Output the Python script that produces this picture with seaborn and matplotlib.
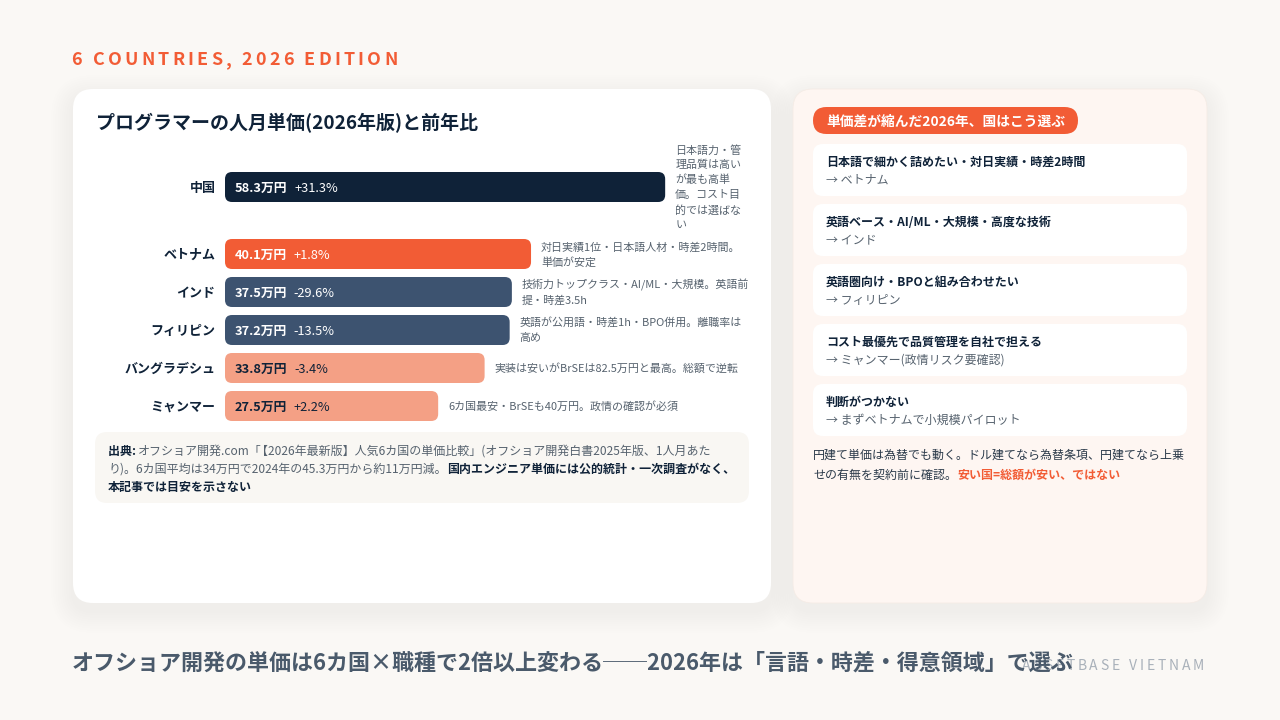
import matplotlib
matplotlib.use("Agg")
import matplotlib.pyplot as plt
import pandas as pd
import seaborn as sns
from matplotlib.patches import FancyBboxPatch

sns.set_theme(style="white")
plt.rcParams["font.family"] = ["Noto Sans CJK JP", "DejaVu Sans"]

# data
countries = ["中国", "ベトナム", "インド", "フィリピン", "バングラデシュ", "ミャンマー"]
prices = [58.3, 40.1, 37.5, 37.2, 33.8, 27.5]
yoy = ["+31.3%", "+1.8%", "-29.6%", "-13.5%", "-3.4%", "+2.2%"]
notes = [
    ["日本語力・管", "理品質は高い", "が最も高単", "価。コスト目", "的では選ばな", "い"],
    ["対日実績1位・日本語人材・時差2時間。", "単価が安定"],
    ["技術力トップクラス・AI/ML・大規模。英語前", "提・時差3.5h"],
    ["英語が公用語・時差1h・BPO併用。離職率は", "高め"],
    ["実装は安いがBrSEは82.5万円と最高。総額で逆転"],
    ["6カ国最安・BrSEも40万円。政情の確認が必須"],
]
choices = [
    ("日本語で細かく詰めたい・対日実績・時差2時間", "→ ベトナム"),
    ("英語ベース・AI/ML・大規模・高度な技術", "→ インド"),
    ("英語圏向け・BPOと組み合わせたい", "→ フィリピン"),
    ("コスト最優先で品質管理を自社で担える", "→ ミャンマー(政情リスク要確認)"),
    ("判断がつかない", "→ まずベトナムで小規模パイロット"),
]

NAVY = "#0F2238"
ORANGE = "#F25C35"
SLATE = "#3D5370"
SALMON = "#F4A085"
GREY = "#56626E"
BG = "#FAF8F5"
bar_colors = [NAVY, ORANGE, SLATE, SLATE, SALMON, SALMON]
value_colors = ["white", "white", "white", "white", NAVY, NAVY]

df = pd.DataFrame({"country": countries, "price": prices})

fig = plt.figure(figsize=(12.8, 7.2), dpi=100, facecolor=BG)
# canvas in pixel coordinates for the cards and text
bg = fig.add_axes([0, 0, 1, 1])
bg.set_xlim(0, 1280)
bg.set_ylim(720, 0)
bg.axis("off")


def px(size):
    return size * 0.72


def card(x0, y0, x1, y1, r, color, ax=bg, edge="none", z=1, lw=0):
    p = FancyBboxPatch((x0 + r, y0 + r), x1 - x0 - 2 * r, y1 - y0 - 2 * r,
                       boxstyle=f"round,pad={r},rounding_size={r}",
                       fc=color, ec=edge, lw=lw, zorder=z)
    ax.add_patch(p)
    return p


def shadow(x0, y0, x1, y1, r):
    # soft drop shadow, stacked outlines
    for i in range(10, 0, -1):
        g = i * 2.2
        card(x0 - g, y0 - g + 8, x1 + g, y1 + g + 8, r + g, (0.06, 0.13, 0.22, 0.004), z=0.5)


def runs(x, y, parts, size):
    # several styles on one baseline, an optional 4th item nudges the run
    r = fig.canvas.get_renderer()
    for part in parts:
        s, weight, color = part[:3]
        if len(part) > 3:
            x += part[3]
        t = bg.text(x, y, s, fontsize=px(size), fontweight=weight, color=color, va="baseline", zorder=5)
        x += t.get_window_extent(r).width


def spaced(x, y, s, size, weight, color, gap, z=5):
    # letter spacing is not a text option here
    r = fig.canvas.get_renderer()
    for ch in s:
        t = bg.text(x, y, ch, fontsize=px(size), fontweight=weight, color=color, va="baseline", zorder=z)
        if ch == " ":
            x += size * 0.224 + gap
        else:
            x += t.get_window_extent(r).width + gap


spaced(71.5, 65, "6 COUNTRIES, 2026 EDITION", 18, "bold", ORANGE, 3.2)

shadow(73, 89, 771, 603, 20)
shadow(793, 89, 1207, 603, 20)
card(73, 89, 771, 603, 20, "white", z=1)
card(793, 89, 1207, 603, 20, "#FEF6F2", edge="#F5ECE6", lw=0.6, z=1)

bg.text(96, 129, "プログラマーの人月単価(2026年版)と前年比", fontsize=px(19), fontweight="bold", color=NAVY, zorder=5)

# bars: scale is 7.37 px per 万円, with 10 px of bar before zero
SCALE = 7.37
X0 = 225
AX_W = 470
xlim = (-10 / SCALE, (AX_W - 10) / SCALE)


def bar_axes(top, height, sub):
    ax = fig.add_axes([X0 / 1280, 1 - (top + height) / 720, AX_W / 1280, height / 720])
    sns.barplot(data=sub, x="price", y="country", hue="country", palette=dict(zip(countries, bar_colors)),
                legend=False, width=30 / 38, ax=ax)
    ax.set_xlim(*xlim)
    ax.set(xlabel="", ylabel="", xticks=[], yticks=[])
    ax.patch.set_alpha(0)
    sns.despine(ax=ax, left=True, bottom=True)
    return ax


ax_top = bar_axes(168, 38, df.iloc[:1])
ax_rest = bar_axes(235, 190, df.iloc[1:])

fig.canvas.draw()
row = 0
for ax in [ax_top, ax_rest]:
    # swap seaborn's square bars for rounded ones at the same place
    for patch in sorted(ax.patches, key=lambda p: -p.get_window_extent().y0):
        ext = patch.get_window_extent()
        right, top, bottom = ext.x1 + 0.5, 720 - ext.y1, 720 - ext.y0
        patch.set_visible(False)
        card(X0, top, right, bottom, 7, bar_colors[row], z=3)
        cy = (top + bottom) / 2
        base = cy + 5.1
        bg.text(X0 - 9.5, base, countries[row], fontsize=px(13), fontweight="bold", color=NAVY,
                ha="right", zorder=5)
        r = fig.canvas.get_renderer()
        tv = bg.text(X0 + 10, base, f"{prices[row]}万円", fontsize=px(12.8), fontweight="bold",
                     color=value_colors[row], zorder=5)
        bg.text(X0 + 10 + tv.get_window_extent(r).width + 6.5, base, yoy[row], fontsize=px(12.8),
                color=value_colors[row], zorder=5)
        lines = notes[row]
        for i, line in enumerate(lines):
            bg.text(right + 10, cy + (i - (len(lines) - 1) / 2) * 15 + 3.9, line, fontsize=px(11),
                    color=GREY, zorder=5)
        row += 1

# source note
card(95, 432, 749, 503, 12, "#F9F7F3", z=2)
runs(108, 455, [("出典: ", "bold", NAVY),
                ("オフショア開発.com「", "normal", GREY, -0.5),
                ("【2026年最新版】人気6カ国の単価比較」(オフショア開発白書2025年版、1人月あた", "normal", GREY, -5.5)], 12)
runs(108, 473, [("り)。6カ国平均は34万円で2024年の45.3万円から約11万円減。", "normal", GREY),
                ("国内エンジニア単価には公的統計・一次調査がなく、", "bold", NAVY)], 12)
runs(108, 491, [("本記事では目安を示さない", "bold", NAVY)], 12)

# right panel
card(813, 107, 1078, 134, 13.5, ORANGE, z=2)
bg.text(826, 125.5, "単価差が縮んだ2026年、国はこう選ぶ", fontsize=px(13.75), fontweight="bold", color="white", zorder=5)
for i, (head, answer) in enumerate(choices):
    top = 144 + i * 60
    card(813, top, 1187, top + 52, 10, "white", z=2)
    bg.text(826, top + 22, head, fontsize=px(12), fontweight="bold", color=NAVY, zorder=5)
    bg.text(826, top + 40, answer, fontsize=px(12), color=GREY, zorder=5)

runs(813, 459, [("円建て単価は為替でも動く。ドル建てなら為替条項、円建てなら上乗", "normal", "#2B3A4A")], 12)
runs(813, 479, [("せの有無を契約前に確認。", "normal", "#2B3A4A"),
                ("安い国=総額が安い、ではない", "bold", ORANGE)], 12)

# footer, the brand sits behind the headline as in the source slide
spaced(1022, 670, "ASSETBASE VIETNAM", 14, "normal", "#A9B1BA", 2.8, z=4)
bg.text(72, 670, "オフショア開発の単価は6カ国×職種で2倍以上変わる──2026年は「言語・時差・得意領域」で選ぶ",
        fontsize=px(22), fontweight="bold", color="#4A5A6B", zorder=5)

fig.savefig("out.png", dpi=100, facecolor=BG)
